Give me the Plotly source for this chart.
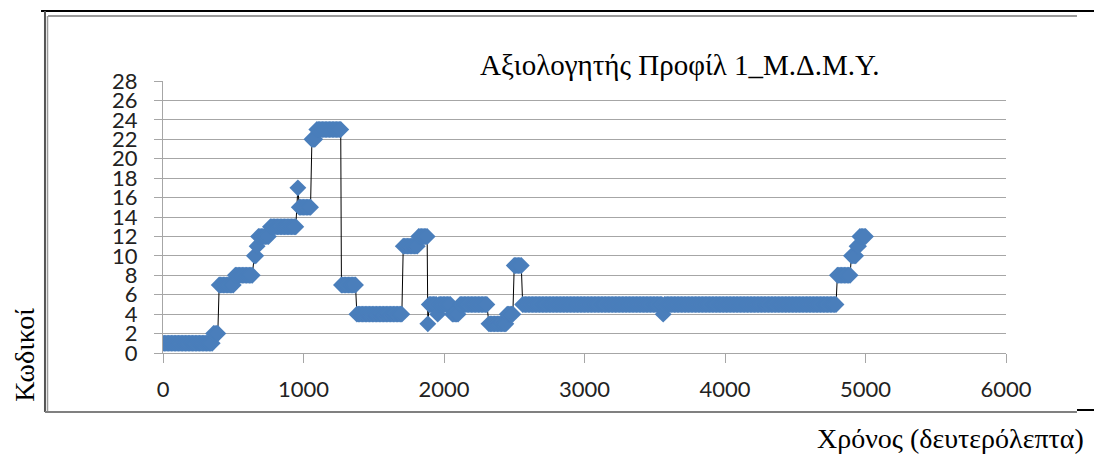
import plotly.graph_objects as go

# Step segments: (start time, end time, code value)
seg_start = [0, 360, 400, 515, 650, 670, 680, 765, 960, 970, 1060, 1095, 1270, 1380,
             1710, 1820, 1885, 1895, 1955, 1965, 2060, 2115, 2320, 2450, 2500, 2560,
             3560, 3570, 4800, 4900, 4940, 4960]
seg_end = [350, 395, 505, 640, 660, 670, 755, 950, 960, 1055, 1085, 1265, 1375, 1700,
           1810, 1880, 1885, 1945, 1955, 2050, 2105, 2310, 2440, 2490, 2550, 3550,
           3560, 4790, 4890, 4935, 4950, 5000]
seg_value = [1, 2, 7, 8, 10, 11, 12, 13, 17, 15, 22, 23, 7, 4,
             11, 12, 3, 5, 4, 5, 4, 5, 3, 4, 9, 5,
             4, 5, 8, 10, 11, 12]
sample_step = 10  # seconds between recorded samples

title_text = "Αξιολογητής Προφίλ 1_Μ.Δ.Μ.Υ."
x_title = "Χρόνος (δευτερόλεπτα)"
y_title = "Κωδικοί"
x_ticks = [0, 1000, 2000, 3000, 4000, 5000, 6000]
y_ticks = list(range(0, 29, 2))

t_vals, c_vals = [], []
for s, e, v in zip(seg_start, seg_end, seg_value):
    for t in range(s, e + 1, sample_step):
        t_vals.append(t)
        c_vals.append(v)

fig = go.Figure()
fig.add_trace(go.Scatter(
    x=t_vals, y=c_vals, mode="lines+markers",
    line=dict(color="black", width=1),
    marker=dict(symbol="diamond", size=13, color="#4A7EBB", line=dict(width=0)),
    showlegend=False, hoverinfo="x+y"))

grid = "#A6A6A6"
tick_font = dict(family="Lato, Liberation Sans", size=22, color="#222")
fig.update_xaxes(range=[0, 6000], tickvals=x_ticks, ticks="outside", ticklen=9,
                 tickcolor=grid, showgrid=False, showline=True, linecolor=grid,
                 linewidth=1, zeroline=False, ticklabelstandoff=8, tickfont=tick_font)
fig.update_yaxes(range=[0, 28], tickvals=y_ticks, ticks="outside", ticklen=8,
                 tickcolor=grid, showgrid=True, gridcolor=grid, gridwidth=1,
                 showline=True, linecolor=grid, linewidth=1, zeroline=False,
                 ticklabelstandoff=12, tickfont=tick_font)

serif = "Liberation Serif, Times New Roman, serif"
fig.update_layout(
    width=1094, height=457,
    margin=dict(l=163, r=88, t=81, b=104),
    paper_bgcolor="white", plot_bgcolor="white",
    annotations=[
        dict(text=title_text, xref="paper", yref="paper", x=0.613, y=1.059,
             xanchor="center", yanchor="middle", showarrow=False,
             font=dict(family=serif, size=29, color="black")),
        dict(text=y_title, xref="paper", yref="paper", x=-0.164, y=-0.007,
             xanchor="center", yanchor="middle", textangle=-90, showarrow=False,
             font=dict(family=serif, size=28, color="black")),
        dict(text=x_title, xref="paper", yref="paper", x=0.934, y=-0.3125,
             xanchor="center", yanchor="middle", showarrow=False,
             font=dict(family=serif, size=28, color="black")),
    ],
    shapes=[
        # white band behind the title, hiding part of the top gridline
        dict(type="rect", xref="paper", yref="paper", x0=0.19, x1=1.006,
             y0=0.975, y1=1.03, fillcolor="white", line=dict(width=0), layer="above"),
        # document frame
        dict(type="line", xref="paper", yref="paper", x0=-0.1447, x1=1.1044,
             y0=1.2574, y1=1.2574, line=dict(color="black", width=2)),
        dict(type="line", xref="paper", yref="paper", x0=-0.1364, x1=1.0842,
             y0=1.239, y1=1.239, line=dict(color="#9A9A9A", width=2)),
        dict(type="line", xref="paper", yref="paper", x0=-0.1400, x1=-0.1400,
             y0=1.2574, y1=-0.2169, line=dict(color="#555555", width=2)),
        dict(type="line", xref="paper", yref="paper", x0=-0.1370, x1=-0.1370,
             y0=1.239, y1=-0.2169, line=dict(color="#9A9A9A", width=1.5)),
        dict(type="line", xref="paper", yref="paper", x0=-0.1400, x1=1.0842,
             y0=-0.2169, y1=-0.2169, line=dict(color="#808080", width=2)),
        dict(type="line", xref="paper", yref="paper", x0=1.0842, x1=1.1044,
             y0=-0.2096, y1=-0.2096, line=dict(color="black", width=2)),
    ],
)

fig.write_html("out.html")
